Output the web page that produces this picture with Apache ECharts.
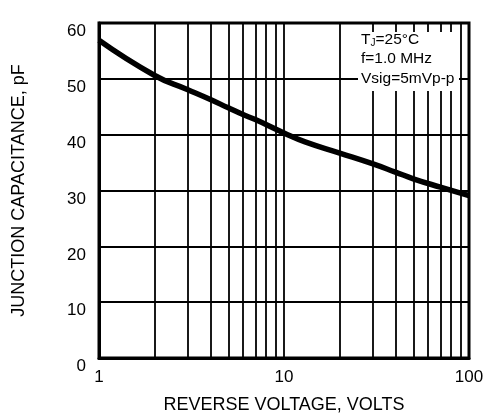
<!DOCTYPE html>
<html>
<head>
<meta charset="utf-8">
<script src="https://cdn.jsdelivr.net/npm/echarts@6/dist/echarts.min.js"></script>
<style>
  html, body { margin: 0; padding: 0; background: #fff; }
  #chart { width: 487px; height: 414px; }
</style>
</head>
<body>
<div id="chart"></div>
<script>
// curve
const voltage = [1, 2, 3, 4, 5, 6, 7, 10, 13, 20, 30, 40, 50, 70, 100];
const capacitance = [56.9, 50.6, 48.1, 46.3, 44.8, 43.6, 42.7, 40.3, 38.7, 36.7, 34.8, 33.3, 32.1, 30.6, 29.1];

// log grid lines between decades
const minorGrid = [2, 3, 4, 5, 6, 7, 8, 9, 20, 30, 40, 50, 60, 70, 80, 90];
const yTicks = [0, 10, 20, 30, 40, 50, 60];
const notes = ['{a|T}{s|J}{a|=25°C}', 'f=1.0 MHz', 'Vsig=5mVp-p'];

const chartDom = document.getElementById('chart');
const myChart = echarts.init(chartDom);

const font = 'Liberation Sans, Arial, sans-serif';

const option = {
    animation: false,
    grid: {
        left: 99,
        right: 18,
        top: 23,
        bottom: 56,
        containLabel: false,
        outerBoundsMode: 'none'
    },
    xAxis: {
        type: 'log',
        logBase: 10,
        min: 1,
        max: 100,
        name: 'REVERSE VOLTAGE, VOLTS',
        nameLocation: 'middle',
        nameGap: 38,
        nameTextStyle: { color: '#000', fontSize: 18, fontFamily: font },
        axisLine: { show: true, lineStyle: { color: '#000', width: 3 } },
        axisTick: { show: false },
        axisLabel: { color: '#000', fontSize: 17, fontFamily: font, margin: 11 },
        splitLine: { show: true, lineStyle: { color: '#000', width: 1.8 } }
    },
    yAxis: {
        type: 'value',
        min: yTicks[0],
        max: yTicks[yTicks.length - 1],
        interval: 10,
        name: 'JUNCTION CAPACITANCE, pF',
        nameLocation: 'middle',
        nameGap: 71,
        nameTextStyle: { color: '#000', fontSize: 18, fontFamily: font },
        axisLine: { show: true, lineStyle: { color: '#000', width: 3 } },
        axisTick: { show: false },
        axisLabel: { color: '#000', fontSize: 17, fontFamily: font, margin: 13, verticalAlign: 'top' },
        splitLine: { show: true, lineStyle: { color: '#000', width: 1.8 } }
    },
    series: [
        {
            type: 'line',
            data: [],
            silent: true,
            markLine: {
                symbol: 'none',
                silent: true,
                label: { show: false },
                lineStyle: { color: '#000', width: 1.8, type: 'solid' },
                data: minorGrid.map(v => ({ xAxis: v }))
            }
        },
        {
            type: 'line',
            data: voltage.map((v, i) => [v, capacitance[i]]),
            smooth: 0.5,
            showSymbol: false,
            lineStyle: { color: '#000', width: 5.5 },
            z: 5
        }
    ],
    graphic: [
        {
            type: 'rect',
            zlevel: 1,
            shape: { x: 358, y: 32, width: 101, height: 59 },
            style: { fill: '#fff' }
        },
        {
            type: 'rect',
            zlevel: 1,
            shape: { x: 99, y: 23, width: 370, height: 335 },
            style: { fill: 'none', stroke: '#000', lineWidth: 3 }
        },
        {
            type: 'text',
            zlevel: 1,
            left: 361,
            top: 32,
            style: {
                text: notes[0],
                rich: {
                    a: { fontSize: 15.5, fontFamily: font, fill: '#000' },
                    s: { fontSize: 10, fontFamily: font, fill: '#000', padding: [6, 0, 0, 0] }
                }
            }
        },
        {
            type: 'text',
            zlevel: 1,
            left: 361,
            top: 51,
            style: { text: notes[1], fontSize: 15.5, fontFamily: font, fill: '#000' }
        },
        {
            type: 'text',
            zlevel: 1,
            left: 361,
            top: 71,
            style: { text: notes[2], fontSize: 15.5, fontFamily: font, fill: '#000' }
        }
    ]
};

option && myChart.setOption(option);
</script>
</body>
</html>
